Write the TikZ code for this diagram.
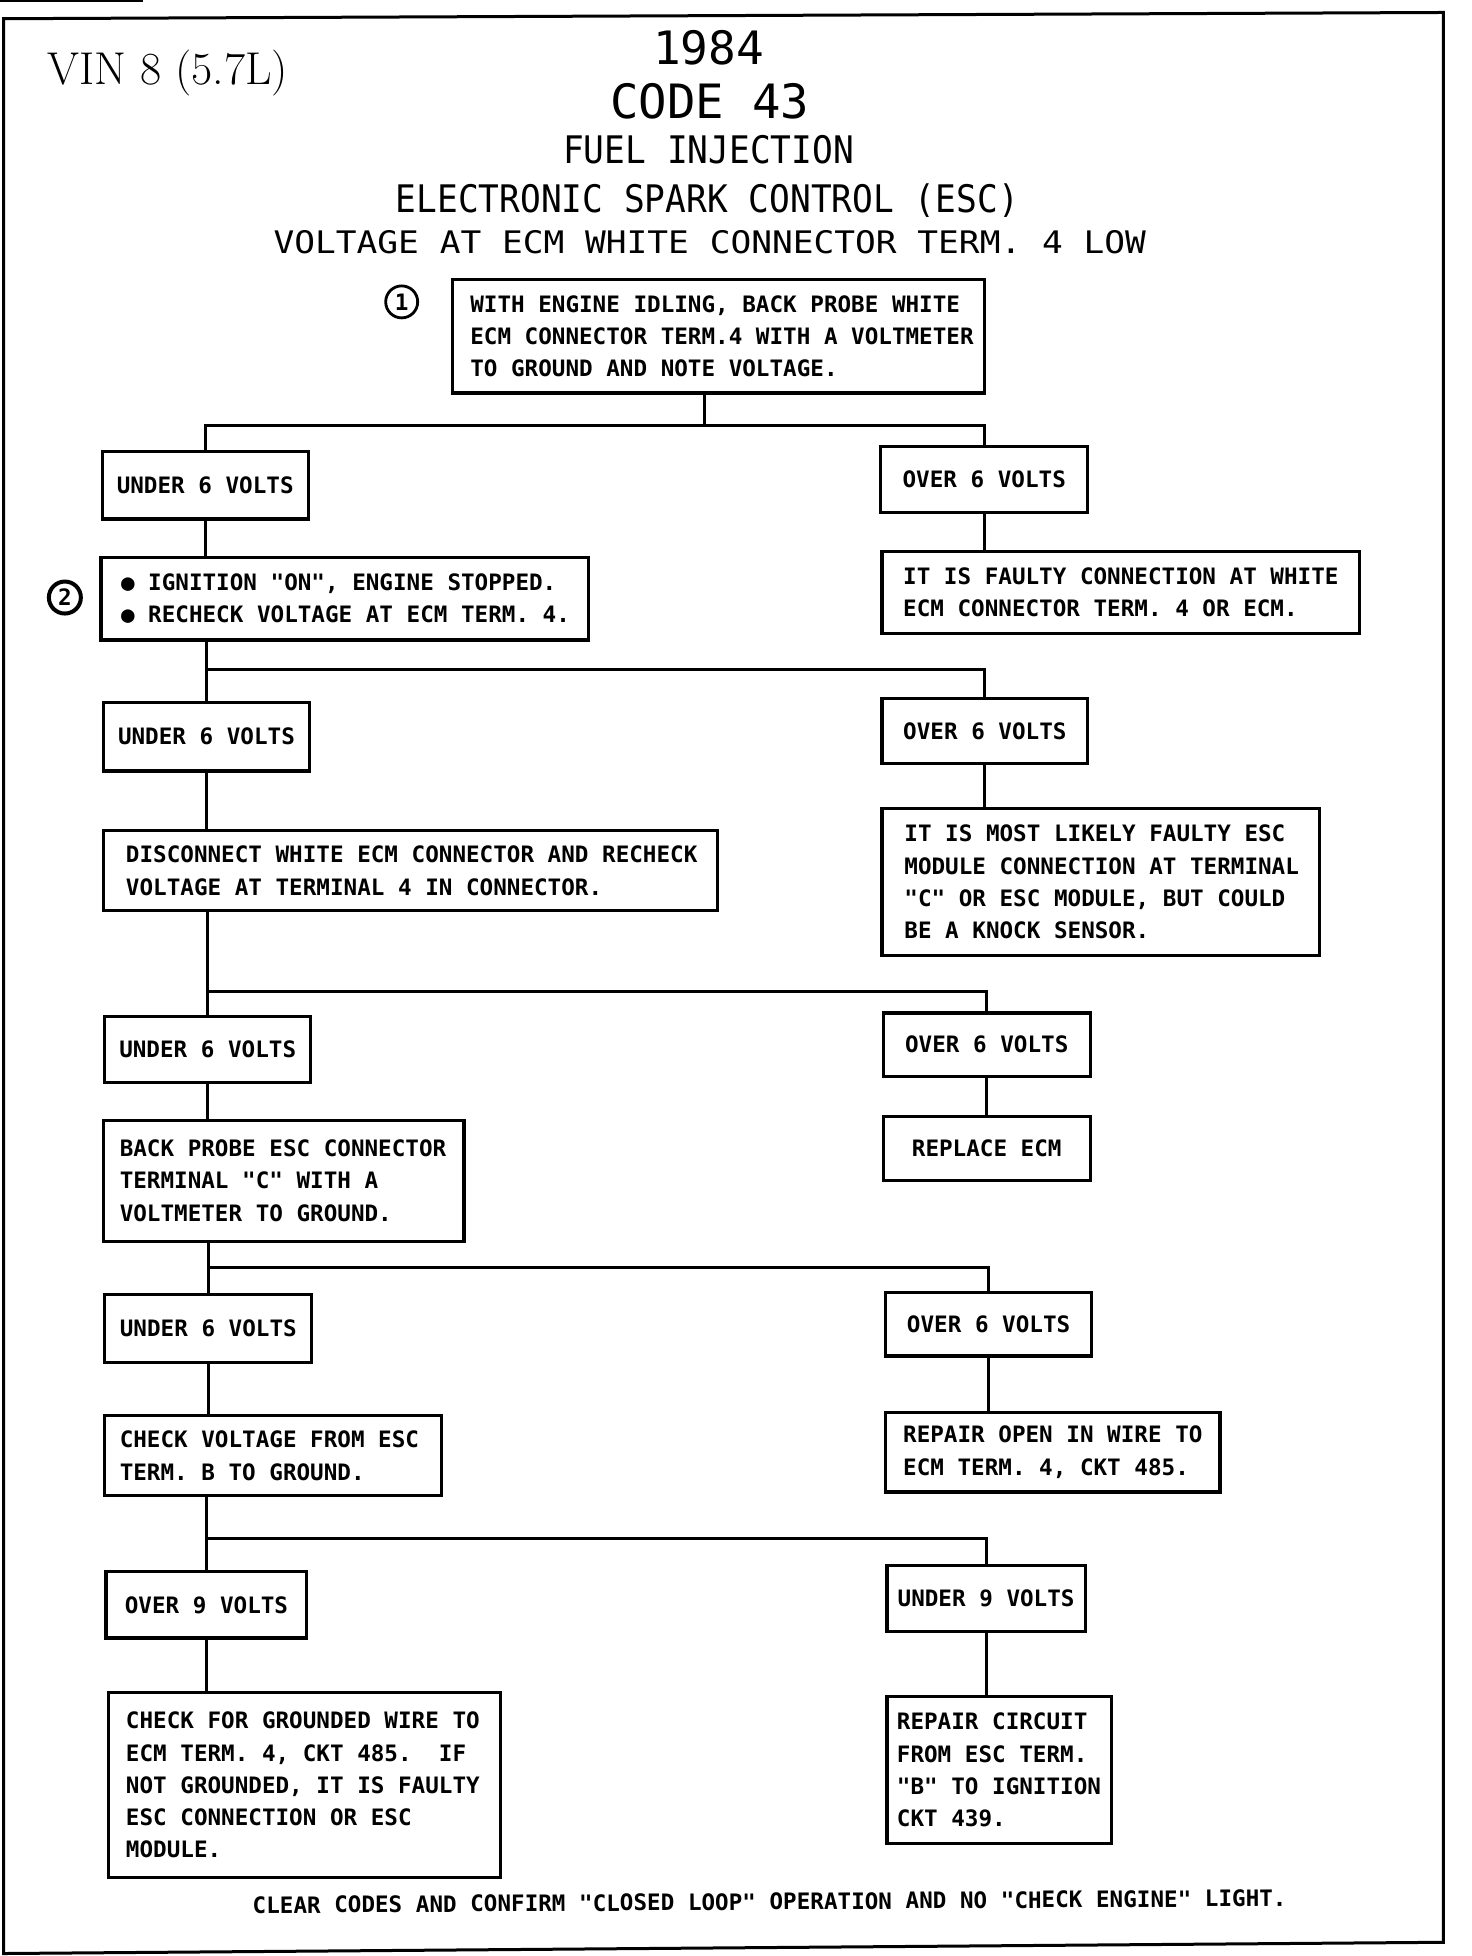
\documentclass[tikz,border=0pt]{standalone}
\usepackage{fontspec}
\usepackage{graphicx}
\newfontfamily\plotfont{DejaVu Sans Mono}
\newcommand\Ln[1]{\mbox{\frenchspacing\spaceskip=0pt\xspaceskip=0pt #1}}
\tikzset{
  boxfont/.style={font=\plotfont\bfseries\fontsize{22.6}{32.3}\selectfont},
  box/.style={draw, line width=3.2pt, align=left, inner ysep=0pt, boxfont},
  vbox/.style={draw, line width=3.2pt, align=center, inner sep=0pt, boxfont},
  tsize/.code n args={3}{%
    \pgfmathsetmacro\bxw{#1*1.2475}%
    \pgfmathsetmacro\bxh{#2*1.2475}%
    \pgfmathsetmacro\bxp{#3*1.2475}%
    \pgfmathsetmacro\bxt{(#1-2*#3)*1.2475}%
    \edef\bxtmp{\noexpand\tikzset{minimum width=\bxw pt,minimum height=\bxh pt,inner xsep=\bxp pt,text width=\bxt pt}}%
    \bxtmp},
  vsize/.code 2 args={%
    \pgfmathsetmacro\bxw{#1*1.2475}%
    \pgfmathsetmacro\bxh{#2*1.2475}%
    \edef\bxtmp{\noexpand\tikzset{minimum width=\bxw pt,minimum height=\bxh pt}}%
    \bxtmp},
  conn/.style={line width=3.2pt},
  titlefont/.style={font=\plotfont\fontsize{34.5}{40}\selectfont},
}
\begin{document}
\begin{tikzpicture}[x=1.2475pt, y=-1.2475pt]
\useasboundingbox (0,0) rectangle (1180,1568);
% frame
\draw[line width=3pt] (3,15) -- (1157,10) -- (1157,1557) -- (3,1566) -- cycle;
\draw[line width=2pt] (0,1) -- (115,1);

% titles
\node[anchor=base west, inner sep=0pt, font=\fontsize{46}{50}\selectfont] (vin) at (38,68) {VIN 8 (5.7L)};
\node[anchor=base, inner sep=0pt, font=\plotfont\fontsize{46}{50}\selectfont] (t1) at (568,52) {1984};
\node[anchor=base, inner sep=0pt, font=\plotfont\fontsize{47.3}{50}\selectfont] (t2) at (569,94.6) {CODE 43};
\node[anchor=base, inner sep=0pt, titlefont] (t3) at (568,130.7) {\scalebox{1}[1.1]{FUEL INJECTION}};
\node[anchor=base, inner sep=0pt, titlefont] (t4) at (567,170.7) {\scalebox{1}[1.1]{ELECTRONIC SPARK CONTROL (ESC)}};
\node[anchor=base, inner sep=0pt, titlefont] (t5) at (569,203.6) {\scalebox{1}[0.9]{VOLTAGE AT ECM WHITE CONNECTOR TERM. 4 LOW}};

% circled step numbers
\node[circle, draw, line width=2.8pt, minimum size=32pt, inner sep=0pt, boxfont] (c1) at (322,242) {1};
\node[circle, draw, line width=4pt, minimum size=32pt, inner sep=0pt, boxfont] (c2) at (52,479) {2};

% boxes
\node[box, tsize={426}{91}{14}] (b1) at (576,269.5) {\Ln{WITH ENGINE IDLING, BACK PROBE WHITE}\\\Ln{ECM CONNECTOR TERM.4 WITH A VOLTMETER}\\\Ln{TO GROUND AND NOTE VOLTAGE.}};

\node[vbox, vsize={165}{54}] (L1) at (164.5,389) {UNDER 6 VOLTS};
\node[vbox, vsize={166}{53}] (R1) at (789,384.5) {OVER 6 VOLTS};

\node[box, tsize={391}{66}{16}] (L2) at (276.5,480) {\Ln{● IGNITION "ON", ENGINE STOPPED.}\\\Ln{● RECHECK VOLTAGE AT ECM TERM. 4.}};
\node[box, tsize={383}{66}{17}] (R2) at (898.5,475) {\Ln{IT IS FAULTY CONNECTION AT WHITE}\\\Ln{ECM CONNECTOR TERM. 4 OR ECM.}};

\node[vbox, vsize={165}{55}] (L3) at (165.5,590.5) {UNDER 6 VOLTS};
\node[vbox, vsize={165}{52}] (R3) at (789.5,586) {OVER 6 VOLTS};

\node[box, tsize={492}{64}{18}] (L4) at (329,698) {\Ln{DISCONNECT WHITE ECM CONNECTOR AND RECHECK}\\\Ln{VOLTAGE AT TERMINAL 4 IN CONNECTOR.}};
\node[box, tsize={351}{118}{18}] (R4) at (882.5,707) {\Ln{IT IS MOST LIKELY FAULTY ESC}\\\Ln{MODULE CONNECTION AT TERMINAL}\\\Ln{"C" OR ESC MODULE, BUT COULD}\\\Ln{BE A KNOCK SENSOR.}};

\node[vbox, vsize={165}{53}] (L5) at (166.5,841.5) {UNDER 6 VOLTS};
\node[vbox, vsize={166}{51}] (R5) at (791,837.5) {OVER 6 VOLTS};

\node[box, tsize={289}{97}{13}] (L6) at (227.5,946.5) {\Ln{BACK PROBE ESC CONNECTOR}\\\Ln{TERMINAL "C" WITH A}\\\Ln{VOLTMETER TO GROUND.}};
\node[vbox, vsize={166}{51}] (R6) at (791,920.5) {REPLACE ECM};

\node[vbox, vsize={166}{54}] (L7) at (167,1065) {UNDER 6 VOLTS};
\node[vbox, vsize={165}{51}] (R7) at (792.5,1061.5) {OVER 6 VOLTS};

\node[box, tsize={270}{64}{12}] (L8) at (219,1167) {\Ln{CHECK VOLTAGE FROM ESC}\\\Ln{TERM. B TO GROUND.}};
\node[box, tsize={268}{64}{14}] (R8) at (844,1164) {\Ln{REPAIR OPEN IN WIRE TO}\\\Ln{ECM TERM. 4, CKT 485.}};

\node[vbox, vsize={161}{53}] (L9) at (165.5,1286.5) {OVER 9 VOLTS};
\node[vbox, vsize={159}{53}] (R9) at (790.5,1281.5) {UNDER 9 VOLTS};

\node[box, tsize={314}{148}{14}] (L10) at (244,1431) {\Ln{CHECK FOR GROUNDED WIRE TO}\\\Ln{ECM TERM. 4, CKT 485.\ \ IF}\\\Ln{NOT GROUNDED, IT IS FAULTY}\\\Ln{ESC CONNECTION OR ESC}\\\Ln{MODULE.}};
\node[box, tsize={180}{118}{8}] (R10) at (801,1419) {\Ln{REPAIR CIRCUIT}\\\Ln{FROM ESC TERM.}\\\Ln{"B" TO IGNITION}\\\Ln{CKT 439.}};

% footer
\node[anchor=base, inner sep=0pt, boxfont, rotate=0.4] (foot) at (617,1531) {CLEAR CODES AND CONFIRM "CLOSED LOOP" OPERATION AND NO "CHECK ENGINE" LIGHT.};

% junction points
\coordinate (j1) at (565,341);
\coordinate (j2) at (165.5,537);
\coordinate (j3) at (166.5,795);
\coordinate (j4) at (167,1016);
\coordinate (j5) at (165.5,1233);

% connectors
\draw[conn] (j1 |- b1.south) -- (j1);
\draw[conn] (L1.north) |- (j1) -| (R1.north);
\draw[conn] (L1.south) -- (L1.south |- L2.north);
\draw[conn] (R1.south) -- (R1.south |- R2.north);

\draw[conn] (j2 |- L2.south) -- (L3.north);
\draw[conn] (j2) -| (R3.north);
\draw[conn] (L3.south) -- (L3.south |- L4.north);
\draw[conn] (R3.south) -- (R3.south |- R4.north);

\draw[conn] (j3 |- L4.south) -- (L5.north);
\draw[conn] (j3) -| (R5.north);
\draw[conn] (L5.south) -- (L5.south |- L6.north);
\draw[conn] (R5.south) -- (R5.south |- R6.north);

\draw[conn] (j4 |- L6.south) -- (L7.north);
\draw[conn] (j4) -| (R7.north);
\draw[conn] (L7.south) -- (L7.south |- L8.north);
\draw[conn] (R7.south) -- (R7.south |- R8.north);

\draw[conn] (j5 |- L8.south) -- (L9.north);
\draw[conn] (j5) -| (R9.north);
\draw[conn] (L9.south) -- (L9.south |- L10.north);
\draw[conn] (R9.south) -- (R9.south |- R10.north);
\end{tikzpicture}
\end{document}
